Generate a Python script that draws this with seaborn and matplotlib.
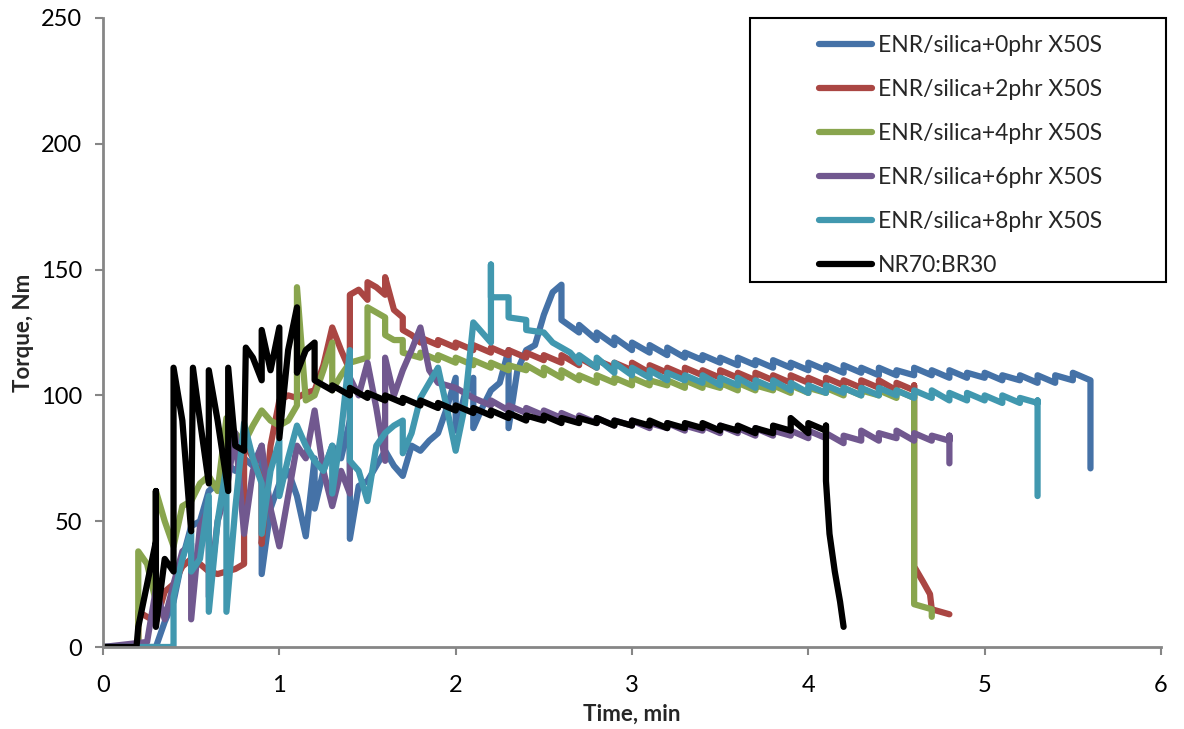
import numpy as np
import pandas as pd
import matplotlib
matplotlib.use("Agg")
import matplotlib.pyplot as plt
from matplotlib.patches import Rectangle
import seaborn as sns

# ---------------- data ----------------
series_names = ["ENR/silica+0phr X50S", "ENR/silica+2phr X50S", "ENR/silica+4phr X50S",
                "ENR/silica+6phr X50S", "ENR/silica+8phr X50S", "NR70:BR30"]
series_colors = ["#4572A7", "#AA4643", "#89A54E", "#71588F", "#4198AF", "#000000"]

# ENR/silica+0phr X50S
t_0phr = [0, 0.3, 0.35, 0.4, 0.45, 0.5, 0.55, 0.6, 0.65, 0.7, 0.75, 0.8, 0.85, 0.9, 0.9, 0.95, 1.0,
          1.05, 1.1, 1.15, 1.2, 1.2, 1.25, 1.3, 1.35, 1.4, 1.4, 1.45, 1.5, 1.55, 1.6, 1.65, 1.7, 1.75,
          1.8, 1.85, 1.9, 1.95, 2.0, 2.0, 2.05, 2.1, 2.1, 2.15, 2.2, 2.25, 2.3, 2.3, 2.35, 2.4, 2.45,
          2.5, 2.55, 2.6, 2.6,
          2.7, 2.7, 2.8, 2.8, 2.9, 2.9, 3.0, 3.0, 3.1, 3.1, 3.2, 3.2, 3.3, 3.3, 3.4, 3.4, 3.5, 3.5,
          3.6, 3.6, 3.7, 3.7, 3.8, 3.8, 3.9, 3.9, 4.0, 4.0, 4.1, 4.1, 4.2, 4.2, 4.3, 4.3, 4.4, 4.4,
          4.5, 4.5, 4.6, 4.6, 4.7, 4.7, 4.8, 4.8, 4.9, 4.9, 5.0, 5.0, 5.1, 5.1, 5.2, 5.2, 5.3, 5.3,
          5.4, 5.4, 5.5, 5.5, 5.6, 5.6]
v_0phr = [0, 0, 10, 18, 35, 48, 50, 62, 65, 73, 70, 75, 72, 80, 29, 55, 65,
          70, 60, 44, 75, 55, 70, 80, 75, 90, 43, 64, 66, 72, 78, 72, 68, 80,
          78, 82, 85, 95, 107, 86, 100, 107, 87, 95, 102, 105, 118, 87, 110, 118, 120,
          132, 141, 144, 130,
          125, 128, 122, 125, 120, 123, 118, 121, 117, 120, 116, 119, 115, 117, 114, 116, 113, 115,
          112, 115, 112, 114, 111, 114, 111, 113, 110, 113, 110, 112, 109, 112, 109, 111, 108, 111,
          108, 110, 108, 111, 108, 110, 107, 110, 107, 109, 107, 109, 106, 108, 106, 108, 105, 108,
          105, 108, 106, 109, 106, 71]

# ENR/silica+2phr X50S
t_2phr = [0, 0.2, 0.2, 0.3, 0.35, 0.4, 0.45, 0.5, 0.55, 0.6, 0.65, 0.7, 0.75, 0.8, 0.8, 0.85, 0.9,
          0.9, 0.95, 1.0, 1.05, 1.1, 1.15, 1.2, 1.25, 1.3, 1.35, 1.4, 1.4, 1.45, 1.5, 1.5, 1.55, 1.6,
          1.6, 1.65, 1.7, 1.7, 1.75,
          1.8, 1.8, 1.9, 1.9, 2.0, 2.0, 2.1, 2.1, 2.2, 2.2, 2.3, 2.3, 2.4, 2.4, 2.5, 2.5, 2.6, 2.6,
          2.7, 2.7, 2.8, 2.8, 2.9, 2.9, 3.0, 3.0, 3.1, 3.1, 3.2, 3.2, 3.3, 3.3, 3.4, 3.4, 3.5, 3.5,
          3.6, 3.6, 3.7, 3.7, 3.8, 3.8, 3.9, 3.9, 4.0, 4.0, 4.1, 4.1, 4.2, 4.2, 4.3, 4.3, 4.4, 4.4,
          4.5, 4.5, 4.6, 4.6, 4.6, 4.65, 4.69, 4.7, 4.8]
v_2phr = [0, 0, 14, 10, 22, 25, 32, 35, 33, 30, 29, 30, 31, 33, 82, 75, 66,
          41, 80, 98, 100, 99, 101, 102, 112, 127, 118, 110, 140, 142, 138, 145, 143, 140,
          147, 134, 131, 126, 124,
          121, 123, 120, 122, 119, 121, 118, 120, 117, 119, 116, 118, 115, 117, 114, 116, 113, 116,
          112, 115, 111, 114, 111, 113, 110, 113, 109, 112, 109, 111, 108, 111, 108, 110, 107, 110,
          107, 109, 106, 109, 106, 108, 105, 108, 105, 107, 104, 107, 104, 106, 103, 106, 103, 106,
          102, 105, 102, 104, 32, 26, 21, 15, 13]

# ENR/silica+4phr X50S
t_4phr = [0, 0.2, 0.2, 0.25, 0.3, 0.3, 0.35, 0.4, 0.45, 0.5, 0.55, 0.6, 0.65, 0.7, 0.75, 0.8, 0.85,
          0.9, 0.95, 1.0, 1.05, 1.1, 1.1, 1.15, 1.2, 1.25, 1.3, 1.3, 1.35, 1.4, 1.45, 1.5, 1.5, 1.55,
          1.6, 1.6, 1.65, 1.7, 1.7, 1.75,
          1.8, 1.8, 1.9, 1.9, 2.0, 2.0, 2.1, 2.1, 2.2, 2.2, 2.3, 2.3, 2.4, 2.4, 2.5, 2.5, 2.6, 2.6,
          2.7, 2.7, 2.8, 2.8, 2.9, 2.9, 3.0, 3.0, 3.1, 3.1, 3.2, 3.2, 3.3, 3.3, 3.4, 3.4, 3.5, 3.5,
          3.6, 3.6, 3.7, 3.7, 3.8, 3.8, 3.9, 3.9, 4.0, 4.0, 4.1, 4.1, 4.2, 4.2, 4.3, 4.3, 4.4, 4.4,
          4.5, 4.5, 4.6, 4.6, 4.6, 4.7, 4.7]
v_4phr = [0, 0, 38, 33, 18, 62, 50, 40, 56, 58, 65, 68, 62, 91, 85, 81, 88,
          94, 90, 88, 90, 96, 143, 98, 100, 110, 121, 102, 108, 113, 114, 115, 135, 133,
          131, 124, 122, 122, 117, 116,
          115, 117, 114, 116, 113, 115, 112, 114, 111, 113, 110, 112, 110, 112, 108, 111, 107, 110,
          106, 108, 105, 108, 105, 107, 104, 107, 104, 106, 104, 106, 103, 106, 103, 105, 103, 105,
          102, 105, 102, 104, 102, 104, 101, 104, 101, 103, 101, 103, 100, 103, 100, 102, 100, 102,
          99, 102, 99, 101, 17, 15, 12]

# ENR/silica+6phr X50S
t_6phr = [0, 0.25, 0.3, 0.35, 0.4, 0.45, 0.5, 0.5, 0.55, 0.6, 0.6, 0.65, 0.7, 0.75, 0.8, 0.85, 0.9,
          0.95, 1.0, 1.05, 1.1, 1.15, 1.2, 1.25, 1.3, 1.35, 1.4, 1.4, 1.45, 1.5, 1.55, 1.6, 1.6, 1.65,
          1.7, 1.75, 1.8, 1.85, 1.9, 2.0, 2.1,
          2.2, 2.2, 2.3, 2.3, 2.4, 2.4, 2.5, 2.5, 2.6, 2.6, 2.7, 2.7, 2.8, 2.8, 2.9, 2.9, 3.0, 3.0,
          3.1, 3.1, 3.2, 3.2, 3.3, 3.3, 3.4, 3.4, 3.5, 3.5, 3.6, 3.6, 3.7, 3.7, 3.8, 3.8, 3.9, 3.9,
          4.0, 4.0, 4.1, 4.1, 4.2, 4.2, 4.3, 4.3, 4.4, 4.4, 4.5, 4.5, 4.6, 4.6, 4.7, 4.7, 4.8, 4.8, 4.8]
v_6phr = [0, 2, 23, 11, 25, 38, 41, 11, 48, 55, 20, 50, 62, 85, 45, 70, 80,
          55, 40, 60, 80, 75, 94, 70, 56, 70, 61, 107, 100, 113, 95, 74, 115, 100,
          110, 118, 127, 110, 105, 103, 99,
          96, 98, 94, 96, 93, 95, 92, 94, 91, 93, 90, 92, 89, 91, 88, 90, 88, 90,
          87, 89, 87, 89, 86, 88, 86, 88, 85, 88, 85, 87, 84, 87, 84, 86, 84, 86,
          83, 86, 83, 85, 81, 84, 82, 86, 82, 85, 83, 86, 82, 85, 82, 84, 82, 84, 73]

# ENR/silica+8phr X50S
t_8phr = [0, 0.38, 0.4, 0.4, 0.45, 0.5, 0.5, 0.55, 0.6, 0.6, 0.65, 0.7, 0.7, 0.75, 0.8, 0.85, 0.9,
          0.9, 0.95, 1.0, 1.0, 1.05, 1.1, 1.15, 1.2, 1.25, 1.3, 1.3, 1.35, 1.4, 1.4, 1.45, 1.5, 1.55,
          1.6, 1.65, 1.7, 1.7, 1.75, 1.8, 1.85, 1.9, 1.95, 2.0, 2.05, 2.1, 2.2, 2.2, 2.2, 2.3, 2.3,
          2.4, 2.4, 2.5, 2.55, 2.6, 2.65,
          2.7, 2.7, 2.8, 2.8, 2.9, 2.9, 3.0, 3.0, 3.1, 3.1, 3.2, 3.2, 3.3, 3.3, 3.4, 3.4, 3.5, 3.5,
          3.6, 3.6, 3.7, 3.7, 3.8, 3.8, 3.9, 3.9, 4.0, 4.0, 4.1, 4.1, 4.2, 4.2, 4.3, 4.3, 4.4, 4.4,
          4.5, 4.5, 4.6, 4.6, 4.7, 4.7, 4.8, 4.8, 4.9, 4.9, 5.0, 5.0, 5.1, 5.1, 5.2, 5.2, 5.3, 5.3, 5.3]
v_8phr = [0, 0, 0, 20, 35, 46, 30, 35, 60, 14, 50, 72, 14, 55, 89, 75, 65,
          45, 70, 82, 60, 75, 88, 80, 74, 70, 80, 61, 85, 118, 74, 70, 58, 80,
          85, 88, 90, 77, 85, 99, 105, 111, 95, 78, 95, 129, 121, 152, 139, 139, 131,
          130, 126, 125, 121, 119, 117,
          113, 116, 111, 115, 109, 113, 108, 111, 107, 110, 106, 109, 106, 108, 105, 108, 104, 107,
          104, 107, 103, 106, 103, 106, 102, 105, 101, 104, 101, 104, 101, 103, 100, 103, 100, 103,
          100, 102, 99, 102, 99, 102, 98, 101, 98, 101, 98, 100, 97, 100, 97, 99, 97, 98, 60]

# NR70:BR30
t_nrbr = [0, 0.19, 0.2, 0.25, 0.3, 0.3, 0.3, 0.35, 0.4, 0.4, 0.45, 0.5, 0.51, 0.55, 0.6, 0.6,
          0.65, 0.71, 0.71, 0.75, 0.8, 0.81, 0.85, 0.9, 0.9, 0.95, 1.0, 1.0, 1.05, 1.1, 1.1, 1.15,
          1.2, 1.2, 1.25,
          1.3, 1.3, 1.4, 1.4, 1.5, 1.5, 1.6, 1.6, 1.7, 1.7, 1.8, 1.8, 1.9, 1.9, 2.0, 2.0, 2.1, 2.1,
          2.2, 2.2, 2.3, 2.3, 2.4, 2.4, 2.5, 2.5, 2.6, 2.6, 2.7, 2.7, 2.8, 2.8, 2.9, 2.9, 3.0, 3.0,
          3.1, 3.1, 3.2, 3.2, 3.3, 3.3, 3.4, 3.4, 3.5, 3.5, 3.6, 3.6, 3.7, 3.7, 3.8, 3.8, 3.9, 3.9,
          4.0, 4.0, 4.1, 4.1, 4.1, 4.12, 4.15, 4.18, 4.2]
v_nrbr = [0, 0, 8, 25, 42, 62, 8, 35, 30, 111, 90, 46, 111, 90, 65, 110,
          90, 62, 111, 80, 78, 119, 115, 106, 126, 110, 127, 83, 118, 135, 109, 118,
          121, 106, 104,
          102, 104, 100, 103, 99, 101, 98, 100, 97, 99, 96, 98, 95, 97, 94, 96, 93, 95,
          92, 94, 91, 93, 90, 92, 90, 92, 89, 91, 89, 91, 89, 91, 88, 90, 88, 90,
          88, 90, 87, 89, 87, 89, 87, 89, 86, 88, 86, 88, 85, 87, 85, 88, 86, 91,
          85, 89, 86, 88, 66, 45, 30, 18, 8]

x_ticks = [0, 1, 2, 3, 4, 5, 6]
y_ticks = [0, 50, 100, 150, 200, 250]

# ---------------- build long table ----------------
frames = []
for name, t, v in zip(series_names,
                      [t_0phr, t_2phr, t_4phr, t_6phr, t_8phr, t_nrbr],
                      [v_0phr, v_2phr, v_4phr, v_6phr, v_8phr, v_nrbr]):
    frames.append(pd.DataFrame({"Time": t, "Torque": v, "Series": name}))
df = pd.concat(frames, ignore_index=True)

# ---------------- plot ----------------
sns.set_theme(style="white")
plt.rcParams["font.family"] = ["Lato", "DejaVu Sans"]

W, H = 1184, 729
fig = plt.figure(figsize=(W / 100, H / 100), dpi=100)
ax = fig.add_axes([103 / W, 1 - 647 / H, (1161 - 103) / W, (647 - 18) / H])

palette = dict(zip(series_names, series_colors))
sns.lineplot(data=df, x="Time", y="Torque", hue="Series", hue_order=series_names,
             palette=palette, sort=False, estimator=None, units="Series",
             linewidth=4.5, ax=ax, legend=True,
             solid_joinstyle="round", solid_capstyle="round")

ax.set_xlim(0, 6)
ax.set_ylim(0, 250)
ax.set_xticks(x_ticks)
ax.set_yticks(y_ticks)
ax.set_xticklabels([str(x) for x in x_ticks])
ax.set_yticklabels([str(y) for y in y_ticks])
ax.tick_params(axis="both", which="major", labelsize=17, length=6, width=1.5,
               color="#868686", direction="out", labelcolor="black")
ax.tick_params(axis="x", pad=14)
ax.tick_params(axis="y", pad=9)
ax.tick_params(left=True, bottom=True)
for s in ["top", "right"]:
    ax.spines[s].set_visible(False)
for s in ["left", "bottom"]:
    ax.spines[s].set_color("#868686")
    ax.spines[s].set_linewidth(2)
ax.grid(False)

ax.set_xlabel("Time, min", fontsize=16, fontweight="bold", labelpad=6)
ax.set_ylabel("Torque, Nm", fontsize=16, fontweight="bold", labelpad=5)

# legend
handles, labels = ax.get_legend_handles_labels()
leg = ax.legend(handles, labels, loc="upper left",
                bbox_to_anchor=(808 / W, 1 - 24 / H), bbox_transform=fig.transFigure,
                frameon=False, fontsize=16.5, handlelength=2.3, handletextpad=0.25,
                labelspacing=1.0, borderpad=0)
for line in leg.get_lines():
    line.set_linewidth(4.5)
    line.set_solid_capstyle("round")

fig.patches.append(Rectangle((750 / W, 1 - 282 / H), 416 / W, 264 / H,
                             transform=fig.transFigure, fill=False,
                             edgecolor="black", linewidth=1.5, zorder=5))

fig.savefig("out.png", dpi=100)
